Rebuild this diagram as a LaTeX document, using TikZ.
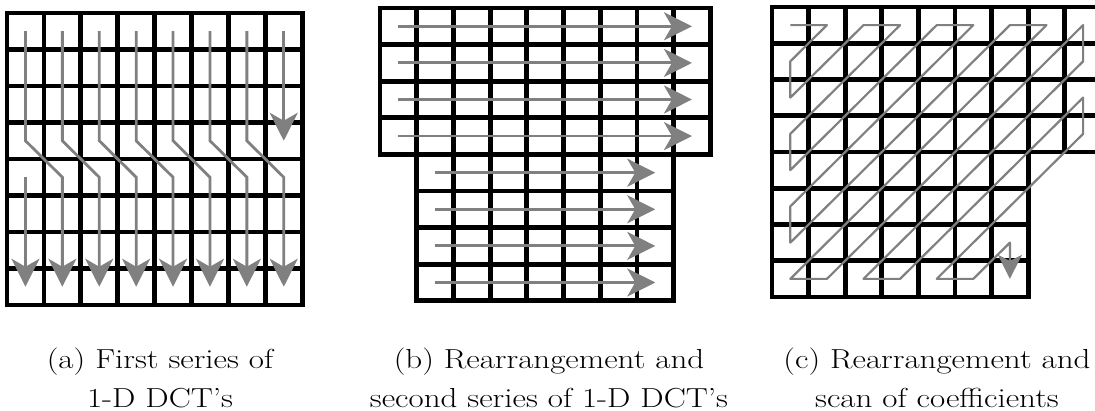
\documentclass[tikz,border=0pt]{standalone}
\usepackage{tikz}
\usetikzlibrary{arrows.meta}
\definecolor{scangray}{RGB}{128,128,128}

\begin{document}
\begin{tikzpicture}[x=1pt,y=-1pt,
    gridline/.style={line width=4.8pt},
    colscan/.style={scangray,line width=2.8pt,-{Stealth[length=28pt,width=28pt,inset=8pt]}},
    zigzag/.style={scangray,line width=2.2pt,line join=round,-{Stealth[length=24pt,width=24pt,inset=6pt]}},
    caption/.style={align=center,inner sep=0pt,anchor=north,xscale=1.2,font=\fontsize{27.5}{39}\selectfont}]
  \clip (0,0) rectangle (1095,411);

  % (a)
  \begin{scope}[shift={(7,13)},x=36.9pt,y=-36.5pt]
    \draw[gridline] (0,0) rectangle (8,8);
    \foreach \i in {1,...,7} {
      \draw[gridline] (\i,0) -- (\i,8);
      \draw[gridline] (0,\i) -- (8,\i);
    }
    \foreach \i in {0,...,6}
      \draw[colscan] (\i+.5,.5) -- (\i+.5,3.5) -- (\i+1.5,4.5) -- (\i+1.5,7.5);
    \draw[colscan] (7.5,.5) -- (7.5,3.5);
    \draw[colscan] (.5,4.5) -- (.5,7.5);
  \end{scope}

  % (b)
  \begin{scope}[shift={(380,8)},x=36.7pt,y=-36.6pt]
    \draw[gridline] (0,0) rectangle (9,4);
    \draw[gridline] (1,4) rectangle (8,8);
    \foreach \i in {1,...,8} \draw[gridline] (\i,0) -- (\i,4);
    \foreach \i in {2,...,7} \draw[gridline] (\i,4) -- (\i,8);
    \foreach \j in {1,2,3} \draw[gridline] (0,\j) -- (9,\j);
    \foreach \j in {5,6,7} \draw[gridline] (1,\j) -- (8,\j);
    \foreach \j in {0,...,3} \draw[colscan] (.5,\j+.5) -- (8.5,\j+.5);
    \foreach \j in {4,...,7} \draw[colscan] (1.5,\j+.5) -- (7.5,\j+.5);
  \end{scope}

  % (c)
  \begin{scope}[shift={(772,7)},x=36.6pt,y=-36.25pt]
    \draw[gridline] (0,0) rectangle (9,4);
    \draw[gridline] (0,4) rectangle (7,8);
    \foreach \i in {1,...,8} \draw[gridline] (\i,0) -- (\i,4);
    \foreach \i in {1,...,6} \draw[gridline] (\i,4) -- (\i,8);
    \foreach \j in {1,2,3} \draw[gridline] (0,\j) -- (9,\j);
    \foreach \j in {5,6,7} \draw[gridline] (0,\j) -- (7,\j);
    \draw[zigzag] (.5,.5) \foreach \c/\r in {1/0,0/1,0/2,2/0,3/0,0/3,0/4,4/0,5/0,0/5,0/6,6/0,7/0,0/7,
        1/7,8/0,8/1,2/7,3/7,8/2,8/3,4/7,5/7,6/6,6/7} { -- (\c+.5,\r+.5) };
  \end{scope}

  \node[caption] (capa) at (160,348) {(a) First series of\\1-D DCT's};
  \node[caption] (capb) at (549,348) {(b) Rearrangement and\\second series of 1-D DCT's};
  \node[caption] (capc) at (937,348) {(c) Rearrangement and\\scan of coefficients};
\end{tikzpicture}
\end{document}
